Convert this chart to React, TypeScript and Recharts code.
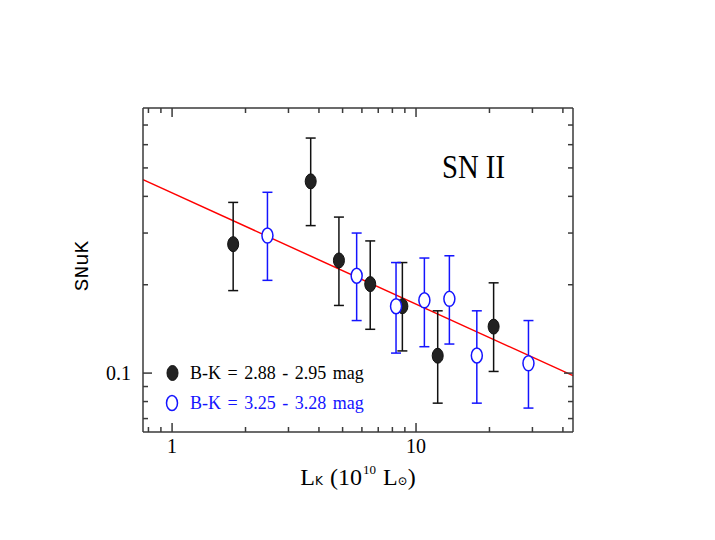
import React from 'react';
import { ScatterChart, Scatter, XAxis, YAxis, ErrorBar, ReferenceLine, Legend } from 'recharts';

// B-K = 2.88 - 2.95 mag (filled)
const redX = [1.78, 3.7, 4.83, 6.49, 8.79, 12.27, 20.8];
const redY = [0.275, 0.45, 0.242, 0.201, 0.169, 0.1146, 0.144];
const redLo = [0.191, 0.318, 0.17, 0.141, 0.119, 0.079, 0.1013];
const redHi = [0.3815, 0.632, 0.34, 0.282, 0.238, 0.163, 0.203];

// B-K = 3.25 - 3.28 mag (open)
const blueX = [2.46, 5.71, 8.28, 10.82, 13.7, 17.75, 28.9];
const blueY = [0.294, 0.2146, 0.169, 0.177, 0.179, 0.1148, 0.108];
const blueLo = [0.207, 0.151, 0.117, 0.123, 0.1256, 0.079, 0.076];
const blueHi = [0.413, 0.3, 0.238, 0.2466, 0.251, 0.163, 0.151];

// fitted power law, end points
const fitX = [0.76, 44];
const fitY = [0.456, 0.098];

const xDomain = [0.76, 44];
const yDomain = [0.063, 0.8];
const xMajorTicks = [1, 10];
const xMinorTicks = [0.8, 0.9, 2, 3, 4, 5, 6, 7, 8, 9, 20, 30, 40];
const yMajorTicks = [0.1];
const yMinorTicks = [0.07, 0.08, 0.09, 0.2, 0.3, 0.4, 0.5, 0.6, 0.7];

const seriesNames = ['B-K = 2.88 - 2.95 mag', 'B-K = 3.25 - 3.28 mag'];
const panelTitle = 'SN II';

const FRAME = '#3a3a3a';
const BLUE = '#1414ff';
const SERIF = '"Liberation Serif", "DejaVu Serif", serif';

const build = (xs: number[], ys: number[], lo: number[], hi: number[]) =>
  xs.map((x, i) => ({ x, y: ys[i], err: [ys[i] - lo[i], hi[i] - ys[i]] }));

const blackData = build(redX, redY, redLo, redHi);
const blueData = build(blueX, blueY, blueLo, blueHi);

const xTicks = [...xMinorTicks, ...xMajorTicks].sort((a, b) => a - b);
const yTicks = [...yMinorTicks, ...yMajorTicks].sort((a, b) => a - b);

const makeTick = (side: string, labels: boolean) => (props: any) => {
  const { x, y, payload } = props;
  const v = payload.value;
  const major = side === 'top' || side === 'bottom' ? xMajorTicks.includes(v) : yMajorTicks.includes(v);
  const len = major ? 9 : 5;
  let line;
  if (side === 'bottom') line = <line x1={x} x2={x} y1={y} y2={y - len} />;
  else if (side === 'top') line = <line x1={x} x2={x} y1={y} y2={y + len} />;
  else if (side === 'left') line = <line x1={x} x2={x + len} y1={y} y2={y} />;
  else line = <line x1={x} x2={x - len} y1={y} y2={y} />;
  return (
    <g stroke={FRAME} strokeWidth={1.5}>
      {line}
      {labels && major && side === 'bottom' && (
        <text x={x} y={y + 21} textAnchor="middle" fontFamily={SERIF} fontSize={20} fill="#000" stroke="none">
          {String(v)}
        </text>
      )}
      {labels && major && side === 'left' && (
        <text x={x - 12} y={y + 7} textAnchor="end" fontFamily={SERIF} fontSize={20} fill="#000" stroke="none">
          {String(v)}
        </text>
      )}
    </g>
  );
};

const XTitle = (props: any) => {
  const vb = props.viewBox;
  return (
    <text x={vb.x + vb.width / 2} y={vb.y + 53} textAnchor="middle" fontFamily={SERIF} fontSize={24} fill="#000">
      L<tspan fontSize={12} fontFamily="'DejaVu Sans', sans-serif">K</tspan>
      <tspan dx={7}>(10</tspan>
      <tspan fontSize={13} dx={1} dy={-11}>10</tspan>
      <tspan dx={7} dy={11}>L</tspan>
      <tspan fontSize={12}>⊙</tspan>
      <tspan>)</tspan>
    </text>
  );
};

const YTitle = (props: any) => {
  const vb = props.viewBox;
  const cx = vb.x + vb.width - 61;
  const cy = vb.y + 158;
  return (
    <text
      x={cx}
      y={cy}
      transform={`rotate(-90 ${cx} ${cy})`}
      textAnchor="middle"
      dominantBaseline="central"
      fontFamily='"Liberation Mono", "DejaVu Sans Mono", monospace'
      fontSize={21}
      fill="#000"
    >
      SNuK
    </text>
  );
};

const Overlay = () => (
  <svg width={715} height={540} style={{ position: 'absolute', left: 0, top: 0, pointerEvents: 'none' }}>
    <ellipse cx={172.5} cy={373} rx={5.5} ry={7.5} fill="#222" stroke="#111" />
    <text x={190} y={379} fontFamily={SERIF} fontSize={18} wordSpacing={2} fill="#000">
      {seriesNames[0]}
    </text>
    <ellipse cx={172} cy={403} rx={5.5} ry={7.5} fill="none" stroke={BLUE} strokeWidth={1.5} />
    <text x={190} y={409} fontFamily={SERIF} fontSize={18} wordSpacing={2} fill={BLUE}>
      {seriesNames[1]}
    </text>
    <text x={442} y={178} fontFamily={SERIF} fontSize={33} textLength={63} lengthAdjust="spacingAndGlyphs" fill="#000">
      {panelTitle}
    </text>
  </svg>
);

const FilledDot = (props: any) => (
  <ellipse cx={props.cx} cy={props.cy} rx={5.5} ry={7.5} fill="#222" stroke="#111" strokeWidth={1} />
);
const OpenDot = (props: any) => (
  <ellipse cx={props.cx} cy={props.cy} rx={5.5} ry={7.5} fill="#fff" stroke={BLUE} strokeWidth={1.5} />
);

export default function App() {
  return (
    <div style={{ position: 'absolute', left: 0, top: 0 }}>
      <ScatterChart width={715} height={540} margin={{ top: 107, right: 141, bottom: 107, left: 142 }}>
        <XAxis
          xAxisId={0}
          type="number"
          dataKey="x"
          scale="log"
          domain={xDomain}
          allowDataOverflow
          ticks={xTicks}
          interval={0}
          height={1}
          tickSize={0}
          tickMargin={0}
          tickLine={false}
          axisLine={{ stroke: FRAME, strokeWidth: 1.5 }}
          tick={makeTick('bottom', true)}
          label={<XTitle />}
        />
        <XAxis
          xAxisId="top"
          orientation="top"
          type="number"
          dataKey="x"
          scale="log"
          domain={xDomain}
          allowDataOverflow
          ticks={xTicks}
          interval={0}
          height={1}
          tickSize={0}
          tickMargin={0}
          tickLine={false}
          axisLine={{ stroke: FRAME, strokeWidth: 1.5 }}
          tick={makeTick('top', false)}
        />
        <YAxis
          yAxisId={0}
          type="number"
          dataKey="y"
          scale="log"
          domain={yDomain}
          allowDataOverflow
          ticks={yTicks}
          interval={0}
          width={1}
          tickSize={0}
          tickMargin={0}
          tickLine={false}
          axisLine={{ stroke: FRAME, strokeWidth: 1.5 }}
          tick={makeTick('left', true)}
          label={<YTitle />}
        />
        <YAxis
          yAxisId="right"
          orientation="right"
          type="number"
          dataKey="y"
          scale="log"
          domain={yDomain}
          allowDataOverflow
          ticks={yTicks}
          interval={0}
          width={1}
          tickSize={0}
          tickMargin={0}
          tickLine={false}
          axisLine={{ stroke: FRAME, strokeWidth: 1.5 }}
          tick={makeTick('right', false)}
        />
        <ReferenceLine
          segment={[
            { x: fitX[0], y: fitY[0] },
            { x: fitX[1], y: fitY[1] },
          ]}
          stroke="#ff0000"
          strokeWidth={1.5}
          ifOverflow="visible"
        />
        <Scatter name={seriesNames[0]} data={blackData} shape={<FilledDot />} isAnimationActive={false}>
          <ErrorBar dataKey="err" direction="y" width={5} stroke="#111" strokeWidth={1.5} />
        </Scatter>
        <Scatter name={seriesNames[1]} data={blueData} shape={<OpenDot />} isAnimationActive={false}>
          <ErrorBar dataKey="err" direction="y" width={5} stroke={BLUE} strokeWidth={1.5} />
        </Scatter>
        <Legend
          layout="vertical"
          align="center"
          verticalAlign="middle"
          wrapperStyle={{ left: 0, top: 0, width: 715, height: 540 }}
          content={<Overlay />}
        />
      </ScatterChart>
    </div>
  );
}
